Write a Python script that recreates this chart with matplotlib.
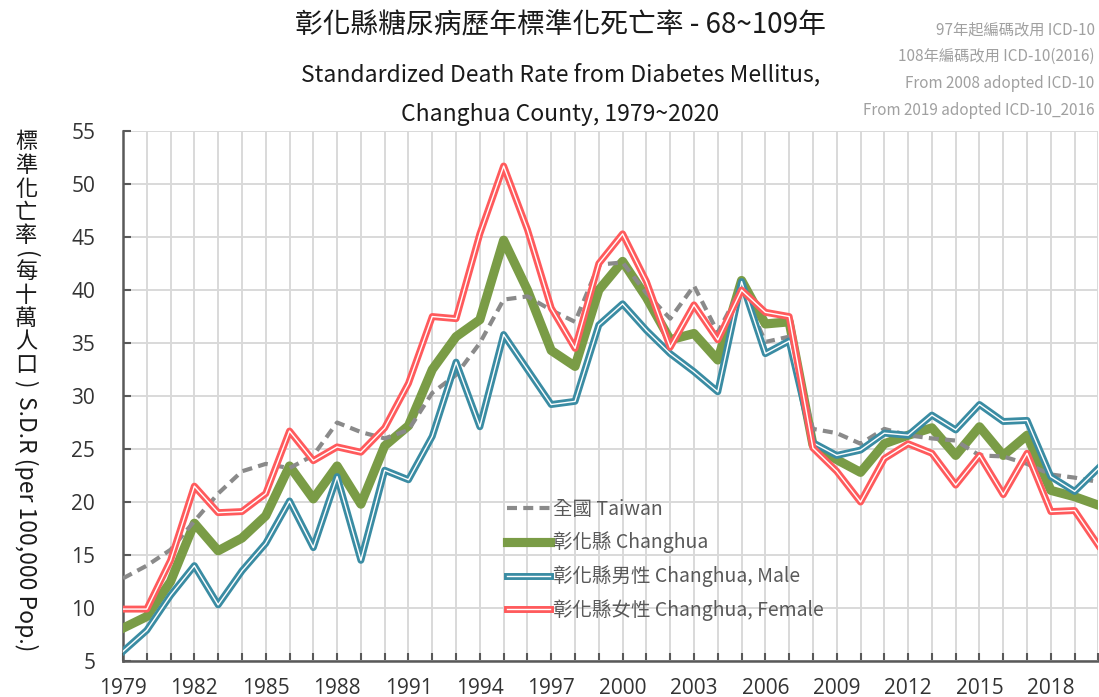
import numpy as np
import matplotlib
matplotlib.use("Agg")
import matplotlib.pyplot as plt
from matplotlib.lines import Line2D
from matplotlib.legend_handler import HandlerTuple

plt.rcParams['font.family'] = ['Noto Sans CJK TC', 'DejaVu Sans']

years = list(range(1979, 2021))

taiwan = [12.8, 14.0, 15.5, 18.2, 20.8, 22.9, 23.6, 23.2, 24.4, 27.5,
          26.6, 26.0, 26.8, 30.3, 32.0, 35.0, 39.1, 39.4, 38.1, 37.0,
          42.4, 42.6, 39.7, 37.3, 40.4, 36.0, 40.3, 35.1, 35.6, 26.9,
          26.5, 25.5, 26.9, 26.3, 26.0, 25.8, 24.4, 24.3, 23.6, 22.6,
          22.3, 21.9]
changhua = [8.1, 9.2, 12.5, 18.0, 15.4, 16.6, 18.7, 23.4, 20.3, 23.4,
            19.8, 25.3, 27.2, 32.5, 35.6, 37.2, 44.7, 40.0, 34.3, 32.8,
            40.0, 42.7, 39.3, 35.3, 35.9, 33.4, 40.9, 36.8, 37.0, 25.4,
            24.0, 22.8, 25.5, 26.3, 27.0, 24.4, 27.1, 24.4, 26.3, 21.1,
            20.5, 19.7]
male = [5.9, 7.9, 11.2, 14.0, 10.3, 13.5, 16.1, 20.1, 15.7, 22.4,
        14.5, 23.0, 22.1, 26.2, 33.2, 27.1, 35.8, 32.5, 29.2, 29.5,
        36.7, 38.7, 36.2, 34.0, 32.3, 30.4, 40.8, 34.0, 35.2, 25.6,
        24.4, 24.9, 26.5, 26.3, 28.2, 26.8, 29.2, 27.6, 27.7, 22.4,
        21.0, 23.2]
female = [9.9, 9.9, 14.5, 21.5, 19.0, 19.1, 20.8, 26.7, 23.9, 25.2,
          24.7, 27.0, 31.2, 37.5, 37.3, 45.3, 51.7, 45.7, 38.3, 34.5,
          42.5, 45.3, 40.8, 34.6, 38.6, 35.3, 40.0, 37.9, 37.5, 25.1,
          22.9, 20.0, 24.1, 25.5, 24.6, 21.6, 24.4, 20.7, 24.6, 19.1,
          19.2, 15.9]

labels = ['全國 Taiwan', '彰化縣 Changhua', '彰化縣男性 Changhua, Male', '彰化縣女性 Changhua, Female']
c_gray, c_green, c_blue, c_red = '#8a8a8a', '#7a9c46', '#3a8ca3', '#ff5a5c'
lw_green, lw_dbl, lw_white = 6.6, 5.0, 1.0

fig = plt.figure(figsize=(10.99, 6.97), dpi=100)
ax = fig.add_axes([0.1119, 0.0516, 0.8876, 0.7604])

ax.plot(years, changhua, color=c_green, lw=lw_green, zorder=3)
ax.plot(years, taiwan, color=c_gray, lw=3.0, dashes=(2.4, 1.5), zorder=4)
ax.plot(years, male, color=c_blue, lw=lw_dbl, zorder=5)
ax.plot(years, male, color='white', lw=lw_white, zorder=6)
ax.plot(years, female, color=c_red, lw=lw_dbl, zorder=7)
ax.plot(years, female, color='white', lw=lw_white, zorder=8)

ax.set_xlim(1979, 2020)
ax.set_ylim(5, 55)
ax.set_xticks(range(1979, 2021, 3))
ax.set_xticks(years, minor=True)
ax.set_yticks(range(5, 56, 5))
ax.grid(True, which='both', color='#d9d9d9', lw=1.4, zorder=0)
ax.set_axisbelow(True)
for s in ['top', 'right']:
    ax.spines[s].set_visible(False)
for s in ['left', 'bottom']:
    ax.spines[s].set_color('#595959')
    ax.spines[s].set_linewidth(1.8)
ax.tick_params(axis='both', which='both', direction='in', color='#595959', width=1.5,
               labelsize=15, labelcolor='#333333')
ax.tick_params(axis='x', which='major', length=6, pad=12)
ax.tick_params(axis='x', which='minor', length=6)
ax.tick_params(axis='y', length=6, pad=20)
for lab in ax.get_xticklabels() + ax.get_yticklabels():
    lab.set_family(['Open Sans', 'DejaVu Sans'])

h_tw = Line2D([], [], color=c_gray, lw=3.0, dashes=(2.4, 1.5))
h_ch = Line2D([], [], color=c_green, lw=lw_green)
h_m = (Line2D([], [], color=c_blue, lw=lw_dbl), Line2D([], [], color='white', lw=lw_white))
h_f = (Line2D([], [], color=c_red, lw=lw_dbl), Line2D([], [], color='white', lw=lw_white))
ax.legend([h_tw, h_ch, h_m, h_f], labels, handler_map={tuple: HandlerTuple(ndivide=1, pad=0)},
          loc='upper left', bbox_to_anchor=(0.384, 0.325), frameon=False, fontsize=14,
          handlelength=2.2, handletextpad=0.15, labelspacing=0.62, borderpad=0,
          labelcolor='#595959')

fig.text(0.51, 0.963, '彰化縣糖尿病歷年標準化死亡率 - 68~109年', ha='center', va='center',
         fontsize=20, fontweight='medium', color='#1a1a1a')
fig.text(0.51, 0.893, 'Standardized Death Rate from Diabetes Mellitus,', ha='center', va='center',
         fontsize=16.5, fontweight='medium', color='#1a1a1a')
fig.text(0.51, 0.836, 'Changhua County, 1979~2020', ha='center', va='center',
         fontsize=16.5, fontweight='medium', color='#1a1a1a')

notes = ['97年起編碼改用 ICD-10', '108年編碼改用 ICD-10(2016)',
         'From 2008 adopted ICD-10', 'From 2019 adopted ICD-10_2016']
for i, t in enumerate(notes):
    fig.text(0.996, 0.957 - i * 0.0385, t, ha='right', va='center', fontsize=11, color='#a0a0a0')

# vertical y label: CJK stacked upright, English rotated
ylab_cn = '標準化亡率(每十萬人口)'
y = 697 - 142
for ch in ylab_cn:
    if ch in '()':
        y += 5
        fig.text(26 / 1099, y / 697, ch, ha='center', va='center', fontsize=16,
                 rotation=-90, fontweight='medium', color='#1a1a1a')
        y -= 17
    else:
        fig.text(26 / 1099, y / 697, ch, ha='center', va='center', fontsize=16,
                 fontweight='medium', color='#1a1a1a')
        y -= 23.5
fig.text(26 / 1099, (697 - 524) / 697, 'S.D.R (per 100,000 Pop.)', ha='center', va='center',
         fontsize=16.5, rotation=-90, fontweight='medium', color='#1a1a1a')

fig.savefig('out.png', dpi=100)
